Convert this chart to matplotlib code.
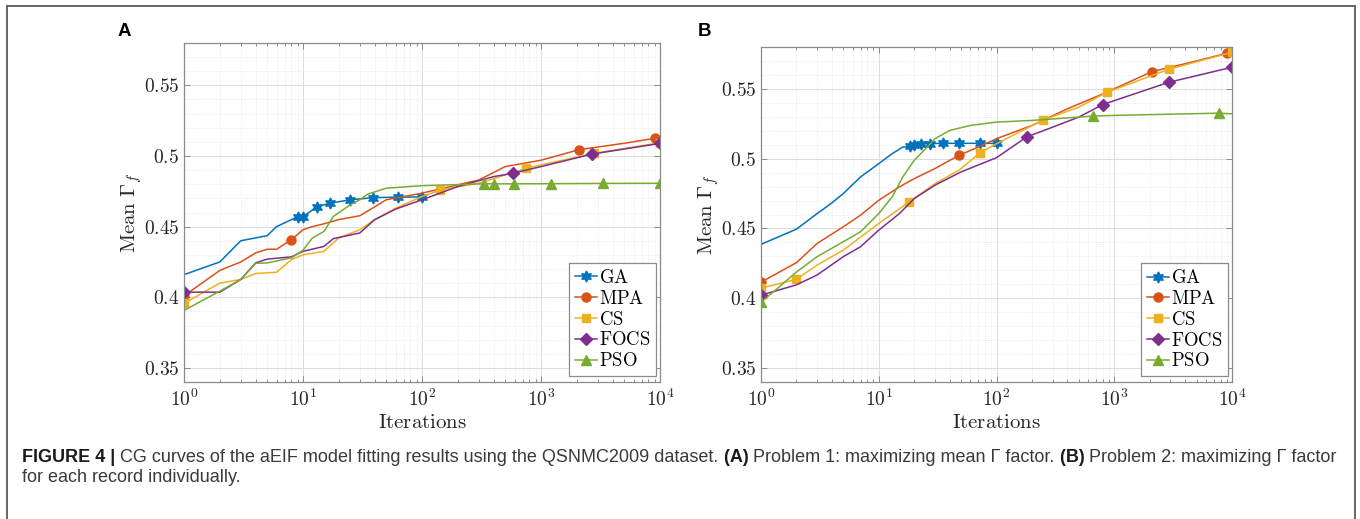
import matplotlib
matplotlib.use("Agg")
import matplotlib.pyplot as plt
from matplotlib.ticker import FixedLocator, FixedFormatter, LogLocator, NullFormatter, MultipleLocator
from matplotlib.patches import Rectangle

plt.rcParams['mathtext.fontset'] = 'cm'
plt.rcParams['font.family'] = ['DejaVu Serif']

# ---------------- data: panel A ----------------
ga_a_x = [1, 2, 3, 5, 6, 9, 10, 13, 17, 25, 39, 63, 100]
ga_a_y = [0.416, 0.425, 0.440, 0.4436, 0.450, 0.457, 0.457, 0.464, 0.4667, 0.469, 0.4705, 0.4709, 0.471]
ga_a_m = [5, 6, 7, 8, 9, 10, 11, 12]

mpa_a_x = [1, 2, 3, 4, 5, 6, 8, 10, 12, 15, 20, 30, 40, 50, 100, 200, 300, 500, 1000, 2100, 5000, 9000, 10000]
mpa_a_y = [0.401, 0.419, 0.425, 0.4314, 0.434, 0.434, 0.4408, 0.4478, 0.450, 0.452, 0.455, 0.4577, 0.464, 0.469,
           0.4737, 0.4796, 0.483, 0.4925, 0.497, 0.5045, 0.509, 0.5125, 0.513]
mpa_a_m = [0, 6, 19, 21]

cs_a_x = [1, 2, 3, 4, 6, 8, 10, 15, 20, 30, 40, 60, 100, 143, 300, 753, 1000, 2800, 10000]
cs_a_y = [0.3957, 0.410, 0.4126, 0.4168, 0.4177, 0.4267, 0.430, 0.4325, 0.442, 0.4478, 0.4549, 0.463, 0.4713,
          0.476, 0.4807, 0.4913, 0.4937, 0.5019, 0.5094]
cs_a_m = [0, 13, 15, 17, 18]

focs_a_x = [1, 2, 3, 4, 5, 8, 10, 15, 18, 30, 40, 60, 100, 200, 400, 580, 1000, 2700, 10000]
focs_a_y = [0.4036, 0.4036, 0.4126, 0.4243, 0.427, 0.4286, 0.4325, 0.436, 0.4415, 0.4455, 0.4549, 0.4624, 0.469,
            0.4784, 0.4854, 0.4878, 0.4925, 0.5014, 0.5089]
focs_a_m = [0, 15, 17, 18]

pso_a_x = [1, 2, 3, 4, 5, 8, 10, 12, 15, 18, 25, 30, 35, 50, 100, 330, 405, 590, 1220, 3300, 10000]
pso_a_y = [0.3907, 0.4043, 0.4126, 0.424, 0.4243, 0.4279, 0.4333, 0.442, 0.4466, 0.4572, 0.4655, 0.469, 0.473,
           0.4772, 0.479, 0.4803, 0.4803, 0.4803, 0.4804, 0.4806, 0.4807]
pso_a_m = [15, 16, 17, 18, 19, 20]

# ---------------- data: panel B ----------------
ga_b_x = [1, 2, 3, 4, 5, 7, 10, 13, 16, 18.6, 20, 23, 27, 35, 48, 73, 100]
ga_b_y = [0.4386, 0.4495, 0.4607, 0.4683, 0.475, 0.4869, 0.4964, 0.5036, 0.5083, 0.5088, 0.5095, 0.5107, 0.5108,
          0.511, 0.511, 0.511, 0.511]
ga_b_m = [9, 10, 11, 12, 13, 14, 15, 16]

mpa_b_x = [1, 2, 3, 5, 7, 10, 15, 20, 30, 48, 70, 100, 200, 400, 800, 2100, 5000, 9000, 10000]
mpa_b_y = [0.4115, 0.4255, 0.4393, 0.4512, 0.4595, 0.4702, 0.4798, 0.4857, 0.4929, 0.5024, 0.5083, 0.5143, 0.5238,
           0.5357, 0.5464, 0.5624, 0.570, 0.5755, 0.5765]
mpa_b_m = [0, 9, 15, 17]

cs_b_x = [1, 2, 3, 5, 10, 18, 30, 48, 72, 100, 250, 500, 870, 2900, 10000]
cs_b_y = [0.4072, 0.4136, 0.4238, 0.4345, 0.4536, 0.4688, 0.4821, 0.4917, 0.504, 0.5107, 0.5278, 0.5369, 0.5476,
          0.564, 0.5762]
cs_b_m = [0, 1, 5, 8, 10, 12, 13, 14]

focs_b_x = [1, 2, 3, 5, 7, 10, 15, 20, 30, 50, 100, 180, 300, 500, 800, 2900, 10000]
focs_b_y = [0.4022, 0.4096, 0.4167, 0.4298, 0.4369, 0.4488, 0.4607, 0.4714, 0.481, 0.4905, 0.5007, 0.5155, 0.5226,
            0.5298, 0.5388, 0.5547, 0.5655]
focs_b_m = [0, 11, 14, 15, 16]

pso_b_x = [1, 2, 3, 5, 7, 10, 13, 16, 20, 25, 30, 40, 60, 100, 200, 660, 1000, 7800, 10000]
pso_b_y = [0.397, 0.4188, 0.4298, 0.4405, 0.4476, 0.4607, 0.4726, 0.4869, 0.4988, 0.5071, 0.5143, 0.5202, 0.5238,
           0.5262, 0.5274, 0.5305, 0.531, 0.5326, 0.5321]
pso_b_m = [0, 15, 17]

names = ["GA", "MPA", "CS", "FOCS", "PSO"]
colors = ["#0072BD", "#D95319", "#EDB120", "#7E2F8E", "#77AC30"]
markers = [(6, 1, 0), "o", "s", "D", "^"]
msizes = [8, 6.5, 5.5, 6, 7]

yticks = [0.35, 0.4, 0.45, 0.5, 0.55]
ytick_labels = ["0.35", "0.4", "0.45", "0.5", "0.55"]
xticks = [1, 10, 100, 1000, 10000]
xtick_labels = ["10^{0}", "10^{1}", "10^{2}", "10^{3}", "10^{4}"]

panels = [
    ("A", [(ga_a_x, ga_a_y, ga_a_m), (mpa_a_x, mpa_a_y, mpa_a_m), (cs_a_x, cs_a_y, cs_a_m),
           (focs_a_x, focs_a_y, focs_a_m), (pso_a_x, pso_a_y, pso_a_m)]),
    ("B", [(ga_b_x, ga_b_y, ga_b_m), (mpa_b_x, mpa_b_y, mpa_b_m), (cs_b_x, cs_b_y, cs_b_m),
           (focs_b_x, focs_b_y, focs_b_m), (pso_b_x, pso_b_y, pso_b_m)]),
]

W, H = 1360, 519
fig = plt.figure(figsize=(W / 100, H / 100), dpi=100)

# outer border
fig.patches.append(Rectangle((7 / W, -0.05), (1355 - 7) / W, 1.05 - 6 / H, transform=fig.transFigure,
                             fill=False, edgecolor="#5a5a5a", linewidth=1.3))

axpos = [(184, 43, 660, 382), (761, 47, 1232, 382)]
legpos = [(0.991, 0.018), (0.991, 0.018)]
letter_x = [124, 704]

for (label, series), (l, t, r, b), lp, lx in zip(panels, axpos, legpos, letter_x):
    ax = fig.add_axes([l / W, 1 - b / H, (r - l) / W, (b - t) / H])
    ax.set_xscale("log")
    ax.set_xlim(1, 10000)
    ax.set_ylim(0.34, 0.58)
    for (x, y, m), nm, c, mk, ms in zip(series, names, colors, markers, msizes):
        ax.plot(x, y, color=c, lw=1.1, marker=mk, markevery=m, markersize=ms,
                markerfacecolor=c, markeredgecolor=c, label=r"$\mathrm{%s}$" % nm)
    ax.xaxis.set_major_locator(FixedLocator(xticks))
    ax.xaxis.set_major_formatter(FixedFormatter([r"$%s$" % s for s in xtick_labels]))
    ax.xaxis.set_minor_locator(LogLocator(base=10, subs=range(2, 10), numticks=20))
    ax.xaxis.set_minor_formatter(NullFormatter())
    ax.yaxis.set_major_locator(FixedLocator(yticks))
    ax.yaxis.set_major_formatter(FixedFormatter([r"$%s$" % s for s in ytick_labels]))
    ax.yaxis.set_minor_locator(MultipleLocator(0.01))
    ax.grid(True, which="major", color="#dcdcdc", lw=0.7)
    ax.grid(True, which="minor", color="#e6e6e6", lw=0.6, ls=(0, (1, 1.5)))
    ax.set_axisbelow(True)
    for s in ax.spines.values():
        s.set_color("#8a8a8a")
        s.set_linewidth(0.9)
    ax.tick_params(which="both", direction="in", top=True, right=True, color="#8a8a8a",
                   labelsize=14, labelcolor="#262626", width=0.7)
    ax.tick_params(which="major", length=4)
    ax.tick_params(which="minor", length=2.5)
    ax.tick_params(axis="y", which="minor", length=0)
    ax.tick_params(axis="x", pad=5)
    ax.set_xlabel(r"$\mathrm{Iterations}$", fontsize=15, color="#262626", labelpad=2)
    ax.set_ylabel(r"$\mathrm{Mean}\ \Gamma_f$", fontsize=15, color="#262626", labelpad=0)
    leg = ax.legend(loc="lower right", bbox_to_anchor=lp, fontsize=13.5, handlelength=1.15,
                    handletextpad=0.1, borderpad=0.3, labelspacing=0.15, borderaxespad=0,
                    fancybox=False, framealpha=1, edgecolor="#8a8a8a")
    leg.get_frame().set_linewidth(0.9)
    fig.text(lx / W, 1 - 32 / H, label, ha="center", va="center", fontsize=13.5, fontweight="bold",
             family="Liberation Sans")

# caption
renderer = fig.canvas.get_renderer()

def caption_line(pieces, x_px, y_px, size=13.0):
    x = x_px
    for txt, bold in pieces:
        t = fig.text(x / W, 1 - y_px / H, txt, ha="left", va="center", fontsize=size,
                     fontweight="bold" if bold else "normal", family="Liberation Sans",
                     color="#1a1a1a" if bold else "#3a3a3a")
        bb = t.get_window_extent(renderer=renderer)
        x += bb.width

caption_line([("FIGURE 4 | ", True),
              ("CG curves of the aEIF model fitting results using the QSNMC2009 dataset. ", False),
              ("(A) ", True), ("Problem 1: maximizing mean Γ factor. ", False),
              ("(B) ", True), ("Problem 2: maximizing Γ factor", False)], 22, 457)
caption_line([("for each record individually.", False)], 22, 477)

fig.savefig("out.png", dpi=100)
